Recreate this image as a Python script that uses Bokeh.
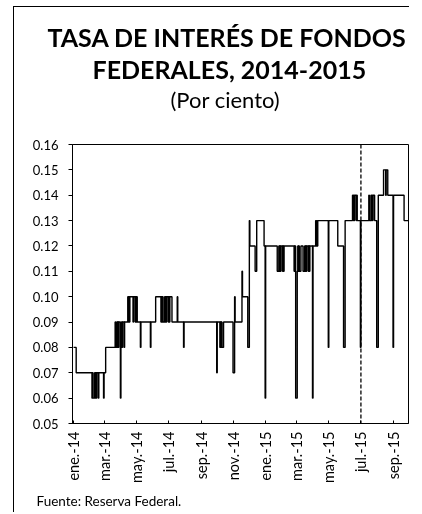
import pandas as pd
from math import pi
from bokeh.plotting import figure
from bokeh.layouts import column
from bokeh.models import Range1d, FixedTicker, Span, Title, NumeralTickFormatter
from bokeh.embed import file_html
from bokeh.resources import INLINE

# ---------------- data ----------------
DATES_2014 = [
    "2014-01-01", "2014-01-06", "2014-02-05", "2014-02-06", "2014-02-07",
    "2014-02-10", "2014-02-11", "2014-02-12", "2014-02-13", "2014-02-14",
    "2014-02-17", "2014-02-18", "2014-02-27", "2014-02-28", "2014-03-03",
    "2014-03-21", "2014-03-22", "2014-03-24", "2014-03-25", "2014-03-26",
    "2014-03-27", "2014-03-28", "2014-03-31", "2014-04-01", "2014-04-02",
    "2014-04-03", "2014-04-04", "2014-04-07", "2014-04-08", "2014-04-14",
    "2014-04-15", "2014-04-16", "2014-04-17", "2014-04-18", "2014-04-24",
    "2014-04-25", "2014-04-28", "2014-04-29", "2014-04-30", "2014-05-01",
    "2014-05-02", "2014-05-08", "2014-05-09", "2014-05-27", "2014-05-28",
    "2014-06-06", "2014-06-16", "2014-06-17", "2014-06-18", "2014-06-19",
    "2014-06-20", "2014-06-23", "2014-06-24", "2014-06-25", "2014-06-26",
    "2014-06-27", "2014-06-30", "2014-07-01", "2014-07-02", "2014-07-03",
    "2014-07-07", "2014-07-17", "2014-07-18", "2014-07-29", "2014-07-30",
    "2014-09-30", "2014-10-01", "2014-10-06", "2014-10-07", "2014-10-08",
    "2014-10-09", "2014-10-10", "2014-10-13", "2014-10-31", "2014-11-03",
    "2014-11-04", "2014-11-17", "2014-11-18", "2014-11-28", "2014-12-01",
    "2014-12-02", "2014-12-12", "2014-12-15", "2014-12-29", "2014-12-31",
]
RATES_2014 = [
    0.08, 0.07, 0.06, 0.07, 0.06,
    0.07, 0.06, 0.07, 0.06, 0.07,
    0.06, 0.07, 0.06, 0.07, 0.08,
    0.09, 0.08, 0.09, 0.08, 0.09,
    0.08, 0.09, 0.06, 0.08, 0.09,
    0.08, 0.09, 0.08, 0.09, 0.10,
    0.09, 0.10, 0.09, 0.10, 0.09,
    0.10, 0.09, 0.10, 0.09, 0.10,
    0.09, 0.08, 0.09, 0.08, 0.09,
    0.10, 0.09, 0.10, 0.09, 0.10,
    0.09, 0.10, 0.09, 0.10, 0.09,
    0.10, 0.09, 0.10, 0.09, 0.10,
    0.09, 0.10, 0.09, 0.08, 0.09,
    0.07, 0.09, 0.08, 0.09, 0.08,
    0.09, 0.08, 0.09, 0.07, 0.10,
    0.09, 0.11, 0.10, 0.08, 0.13,
    0.12, 0.11, 0.13, 0.12, 0.06,
]
DATES_2015 = [
    "2015-01-01", "2015-01-23", "2015-01-26", "2015-01-27", "2015-01-28",
    "2015-01-29", "2015-01-30", "2015-02-02", "2015-02-03", "2015-02-04",
    "2015-02-05", "2015-02-24", "2015-02-25", "2015-02-27", "2015-03-02",
    "2015-03-03", "2015-03-04", "2015-03-05", "2015-03-06", "2015-03-09",
    "2015-03-13", "2015-03-16", "2015-03-17", "2015-03-18", "2015-03-19",
    "2015-03-20", "2015-03-23", "2015-03-24", "2015-03-25", "2015-03-26",
    "2015-03-31", "2015-04-01", "2015-04-06", "2015-04-07", "2015-04-08",
    "2015-04-09", "2015-04-10", "2015-04-30", "2015-05-01", "2015-05-18",
    "2015-05-29", "2015-06-01", "2015-06-15", "2015-06-16", "2015-06-17",
    "2015-06-18", "2015-06-19", "2015-06-22", "2015-06-23", "2015-06-24",
    "2015-06-30", "2015-07-01", "2015-07-16", "2015-07-17", "2015-07-20",
    "2015-07-21", "2015-07-22", "2015-07-23", "2015-07-24", "2015-07-27",
    "2015-07-31", "2015-08-03", "2015-08-13", "2015-08-17", "2015-08-18",
    "2015-08-21", "2015-08-31", "2015-09-01", "2015-09-21",
]
RATES_2015 = [
    0.12, 0.11, 0.12, 0.11, 0.12,
    0.11, 0.12, 0.11, 0.12, 0.11,
    0.12, 0.11, 0.12, 0.06, 0.11,
    0.12, 0.11, 0.12, 0.11, 0.12,
    0.11, 0.12, 0.11, 0.12, 0.11,
    0.12, 0.11, 0.12, 0.11, 0.12,
    0.06, 0.12, 0.13, 0.12, 0.13,
    0.12, 0.13, 0.08, 0.13, 0.12,
    0.08, 0.13, 0.14, 0.13, 0.14,
    0.13, 0.14, 0.13, 0.14, 0.13,
    0.08, 0.13, 0.14, 0.13, 0.14,
    0.13, 0.14, 0.13, 0.14, 0.13,
    0.08, 0.14, 0.15, 0.14, 0.15,
    0.14, 0.08, 0.14, 0.13,
]
END_DATE = "2015-09-29"

TICK_DATES = ["2014-01-01", "2014-03-01", "2014-05-01", "2014-07-01",
              "2014-09-01", "2014-11-01", "2015-01-01", "2015-03-01",
              "2015-05-01", "2015-07-01", "2015-09-01"]
TICK_LABELS = ["ene.-14", "mar.-14", "may.-14", "jul.-14", "sep.-14",
               "nov.-14", "ene.-15", "mar.-15", "may.-15", "jul.-15",
               "sep.-15"]
Y_TICKS = [0.05, 0.06, 0.07, 0.08, 0.09, 0.10, 0.11, 0.12, 0.13, 0.14,
           0.15, 0.16]
MARK_DATE = "2015-07-01"

TITLE_1 = "TASA DE INTERÉS DE FONDOS"
TITLE_2 = "FEDERALES, 2014-2015"
SUBTITLE = "(Por ciento)"
SOURCE = "Fuente:  Reserva Federal."

assert len(DATES_2014) == len(RATES_2014)
assert len(DATES_2015) == len(RATES_2015)

# ---------------- build ----------------
ORIGIN = pd.Timestamp("2014-01-01")


def day(d):
    return (pd.Timestamp(d) - ORIGIN).days


dates = DATES_2014 + DATES_2015
rates = RATES_2014 + RATES_2015
xs = [day(d) for d in dates] + [day(END_DATE)]
ys = rates + [rates[-1]]

FONT = "Lato"

p = figure(width=396, height=506, output_backend="svg", toolbar_location=None,
           x_range=Range1d(-2, 636.4), y_range=Range1d(0.05, 0.16),
           min_border_left=58, min_border_right=2, min_border_top=137,
           min_border_bottom=90, background_fill_color="white",
           border_fill_color="white")
p.grid.visible = False
p.outline_line_color = "black"
p.outline_line_width = 1

p.step(xs, ys, mode="after", line_color="black", line_width=1.4)

p.add_layout(Span(location=day(MARK_DATE), dimension="height",
                  line_color="black", line_dash="4 2", line_width=1.3))

# axes
xa = p.xaxis[0]
xa.ticker = FixedTicker(ticks=[day(d) for d in TICK_DATES])
xa.major_label_overrides = {day(d): lab for d, lab in zip(TICK_DATES, TICK_LABELS)}
xa.major_label_orientation = pi / 2
xa.major_tick_in = 3
xa.major_tick_out = 0
xa.minor_tick_line_color = None
xa.major_label_standoff = 8
xa.major_label_text_font = FONT
xa.major_label_text_font_size = "14.5px"
xa.major_label_text_color = "black"
xa.axis_line_color = "black"
xa.major_tick_line_color = "black"

ya = p.yaxis[0]
ya.ticker = FixedTicker(ticks=Y_TICKS)
ya.formatter = NumeralTickFormatter(format="0.00")
ya.major_tick_in = 0
ya.major_tick_out = 4
ya.minor_tick_line_color = None
ya.major_label_standoff = 10
ya.major_label_text_font = FONT
ya.major_label_text_font_size = "13px"
ya.major_label_text_color = "black"
ya.axis_line_color = "black"
ya.major_tick_line_color = "black"

# titles (closest to the frame first) and source
sub = Title(text=SUBTITLE, align="left", offset=98,
            text_font=FONT, text_font_style="normal",
            text_font_size="22px", text_color="black", standoff=0)
try:
    sub.padding = dict(left=0, right=0, top=0, bottom=32)
except Exception:
    sub.standoff = 64
p.add_layout(sub, "above")
p.add_layout(Title(text=TITLE_2, align="left", offset=20,
                   text_font=FONT, text_font_style="bold",
                   text_font_size="25px", text_color="black",
                   standoff=0), "above")
p.add_layout(Title(text=TITLE_1, align="left", offset=-25,
                   text_font=FONT, text_font_style="bold",
                   text_font_size="25px", text_color="black",
                   standoff=0), "above")
p.add_layout(Title(text=SOURCE, align="left", offset=-36,
                   text_font=FONT, text_font_style="normal",
                   text_font_size="13.5px", text_color="black",
                   standoff=9), "below")

page = column(p, styles={"position": "fixed", "left": "14px", "top": "7px",
                         "box-shadow": "-1px -1px 0 0 black"})

open("out.html", "w").write(file_html(page, INLINE))
